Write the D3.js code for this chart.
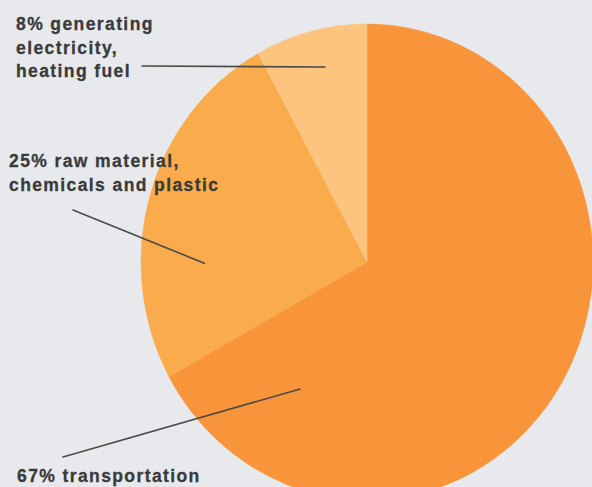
<!DOCTYPE html>
<html>
<head>
<meta charset="utf-8">
<script src="https://cdn.jsdelivr.net/npm/d3@7"></script>
<style>
  html, body { margin: 0; padding: 0; background: #e7e9ec; }
  svg { display: block; }
</style>
</head>
<body>
<svg id="chart" width="592" height="487"></svg>
<script>
// ---- data ----
const categories = ["transportation", "raw material, chemicals and plastic", "generating electricity, heating fuel"];
const values = [67, 25, 8];
const labelLines = [
  ["67% transportation"],
  ["25% raw material,", "chemicals and plastic"],
  ["8% generating", "electricity,", "heating fuel"]
];
const colors = ["#f8953a", "#faab4b", "#fcc47f"];

// ---- layout ----
const W = 592, H = 487;
const cx = 367, cy = 262, R = 226, yScale = 238 / 226;
// label layout: text anchor, leader start, leader end (angle deg clockwise from top, radius fraction)
const labelLayout = [
  { tx: 17, ty: 482, lx: 63, ly: 457, ang: 209, rf: 0.61 },
  { tx: 9,  ty: 167, lx: 73, ly: 210, ang: 269.6, rf: 0.72 },
  { tx: 16, ty: 30,  lx: 142, ly: 66, ang: 347.2, rf: 0.84 }
];
const lineHeight = 23.5;

const svg = d3.select("#chart");
const data = categories.map((c, i) => ({ cat: c, value: values[i], i }));

const pie = d3.pie().value(d => d.value).sort(null);
const arc = d3.arc().innerRadius(0).outerRadius(R);
const color = d3.scaleOrdinal().domain(categories).range(colors);

const g = svg.append("g")
  .attr("transform", `translate(${cx},${cy}) scale(1,${yScale})`);

g.selectAll("path.slice")
  .data(pie(data))
  .join("path")
  .attr("class", "slice")
  .attr("d", arc)
  .attr("fill", d => color(d.data.cat))
  .attr("stroke", d => color(d.data.cat))
  .attr("stroke-width", 0.5);

// leader lines
data.forEach((d, i) => {
  const L = labelLayout[i];
  const a = L.ang * Math.PI / 180;
  const ex = cx + Math.sin(a) * R * L.rf;
  const ey = cy - Math.cos(a) * R * L.rf * yScale;
  svg.append("line")
    .attr("x1", L.lx).attr("y1", L.ly)
    .attr("x2", ex).attr("y2", ey)
    .attr("stroke", "#4a4a48")
    .attr("stroke-width", 1.6)
    .attr("stroke-linecap", "round");
});

// labels
data.forEach((d, i) => {
  const L = labelLayout[i];
  const t = svg.append("text")
    .attr("x", L.tx).attr("y", L.ty)
    .attr("font-family", "'Liberation Sans', Arial, sans-serif")
    .attr("font-weight", "bold")
    .attr("font-size", 17.5)
    .attr("letter-spacing", 1.4)
    .attr("fill", "#3a3a3a")
    .attr("stroke", "#3a3a3a")
    .attr("stroke-width", 0.3);
  labelLines[i].forEach((s, j) => {
    t.append("tspan").attr("x", L.tx).attr("dy", j === 0 ? 0 : lineHeight).text(s);
  });
});
</script>
</body>
</html>
